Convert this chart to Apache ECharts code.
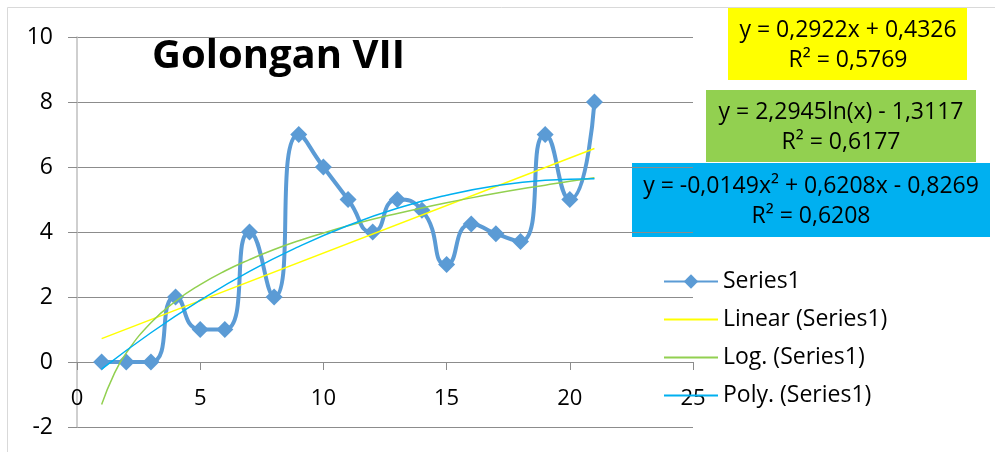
<!DOCTYPE html>
<html>
<head>
<meta charset="utf-8">
<script src="https://cdn.jsdelivr.net/npm/echarts@6/dist/echarts.min.js"></script>
<style>html,body{margin:0;padding:0;background:#fff;}#c{width:995px;height:452px;}</style>
</head>
<body>
<div id="c"></div>
<script>
// Data
var xValues = [1, 2, 3, 4, 5, 6, 7, 8, 9, 10, 11, 12, 13, 14, 15, 16, 17, 18, 19, 20, 21];
var series1 = [0, 0, 0, 2, 1, 1, 4, 2, 7, 6, 5, 4, 5, 4.67, 3, 4.25, 3.95, 3.71, 7, 5, 8];

// Trend lines as drawn in the picture (sampled points)
var linearX = [1, 21];
var linearY = [0.72, 6.57];
var logX = [1, 1.5, 2, 3, 4, 5, 6, 7, 8, 9, 10, 11, 12, 13, 14, 15, 16, 17, 18, 19, 20, 21];
var logY = [-1.31, -0.38, 0.28, 1.21, 1.87, 2.38, 2.80, 3.15, 3.46, 3.73, 3.97, 4.19, 4.39, 4.57, 4.74, 4.90, 5.05, 5.19, 5.32, 5.44, 5.56, 5.67];
var polyX = [1, 3, 5, 7, 9, 11, 13, 15, 17, 19, 21];
var polyY = [-0.22, 0.90, 1.90, 2.79, 3.55, 4.20, 4.73, 5.13, 5.42, 5.59, 5.64];

var titleText = 'Golongan VII';
var legendNames = ['Series1', 'Linear (Series1)', 'Log. (Series1)', 'Poly. (Series1)'];
var eqLinear = ['y = 0,2922x + 0,4326', 'R² = 0,5769'];
var eqLog = ['y = 2,2945ln(x) - 1,3117', 'R² = 0,6177'];
var eqPoly = ['y = -0,0149x² + 0,6208x - 0,8269', 'R² = 0,6208'];

var Y_MIN = -2, Y_MAX = 10;

function pairs(xs, ys) { return xs.map(function (x, i) { return [x, ys[i]]; }); }

var FONT = '"Open Sans", sans-serif';
var GRID_TOP = 37, GRID_BOTTOM = 25, H = 452;
// x axis sits on y = 0: offset it up from the grid bottom by the height of (0 - Y_MIN)
var plotH = H - GRID_TOP - GRID_BOTTOM;
var xAxisOffset = -plotH * (0 - Y_MIN) / (Y_MAX - Y_MIN);

var chart = echarts.init(document.getElementById('c'), null, { renderer: 'canvas' });

function eqBox(x, y, w, h, color, lines, cx) {
  return {
    type: 'group', z: 100,
    children: [
      { type: 'rect', shape: { x: x, y: y, width: w, height: h }, style: { fill: color } },
      { type: 'text', x: cx, y: y + h / 2 + 1,
        style: { text: lines.join('\n'), font: '23px ' + FONT, fill: '#000', align: 'center', verticalAlign: 'middle', lineHeight: 30 } }
    ]
  };
}

var hiddenSymbol = { color: 'rgba(0,0,0,0)', borderColor: 'rgba(0,0,0,0)', borderWidth: 0, opacity: 0 };

chart.setOption({
  animation: false,
  backgroundColor: '#fff',
  grid: { left: 77, right: 302, top: GRID_TOP, bottom: GRID_BOTTOM, containLabel: false, outerBoundsMode: 'none' },
  xAxis: {
    type: 'value', min: 0, max: 25, interval: 5, position: 'bottom', offset: xAxisOffset,
    axisLine: { show: true, onZero: false, lineStyle: { color: '#8c8c8c', width: 1 } },
    axisTick: { show: true, length: 8, lineStyle: { color: '#8c8c8c' } },
    axisLabel: { fontSize: 22, fontFamily: FONT, color: '#000', margin: 26 },
    splitLine: { show: false }
  },
  yAxis: {
    type: 'value', min: Y_MIN, max: Y_MAX, interval: 2,
    axisLine: { show: true, onZero: false, lineStyle: { color: '#bfbfbf', width: 1.5 } },
    axisTick: { show: true, length: 9, lineStyle: { color: '#8c8c8c' } },
    axisLabel: { fontSize: 23, fontFamily: FONT, color: '#000', margin: 24 },
    splitLine: { show: true, lineStyle: { color: '#8c8c8c', width: 1 } }
  },
  legend: {
    orient: 'vertical', left: 658, top: 265,
    itemWidth: 54, itemHeight: 18, itemGap: 15,
    textStyle: { fontSize: 23, fontFamily: FONT, color: '#000' },
    data: [
      { name: legendNames[0] },
      { name: legendNames[1], itemStyle: hiddenSymbol },
      { name: legendNames[2], itemStyle: hiddenSymbol },
      { name: legendNames[3], itemStyle: hiddenSymbol }
    ]
  },
  graphic: [
    { type: 'rect', z: 0, silent: true, shape: { x: 7.5, y: 7.5, width: 1000, height: 500 }, style: { fill: 'none', stroke: '#d9d9d9', lineWidth: 1 } },
    { type: 'text', z: 100, left: 152, top: 37, style: { text: titleText, font: 'bold 40px ' + FONT, fill: '#000' } },
    eqBox(728, 8, 239, 72, '#ffff00', eqLinear, 848),
    eqBox(706, 90, 270, 72, '#92d050', eqLog, 841),
    eqBox(632, 163, 358, 74, '#00b0f0', eqPoly, 811)
  ],
  series: [
    {
      name: legendNames[0], type: 'line', data: pairs(xValues, series1), smooth: 0.6,
      symbol: 'diamond', symbolSize: 17, showSymbol: true,
      lineStyle: { color: '#5b9bd5', width: 4 }, itemStyle: { color: '#5b9bd5' }, z: 2
    },
    {
      name: legendNames[1], type: 'line', data: pairs(linearX, linearY), symbol: 'none',
      lineStyle: { color: '#ffff00', width: 1.5 }, itemStyle: { color: '#ffff00' }, z: 3
    },
    {
      name: legendNames[2], type: 'line', data: pairs(logX, logY), symbol: 'none', smooth: true,
      lineStyle: { color: '#92d050', width: 1.5 }, itemStyle: { color: '#92d050' }, z: 3
    },
    {
      name: legendNames[3], type: 'line', data: pairs(polyX, polyY), symbol: 'none', smooth: true,
      lineStyle: { color: '#00b0f0', width: 1.5 }, itemStyle: { color: '#00b0f0' }, z: 3
    }
  ]
});
</script>
</body>
</html>
